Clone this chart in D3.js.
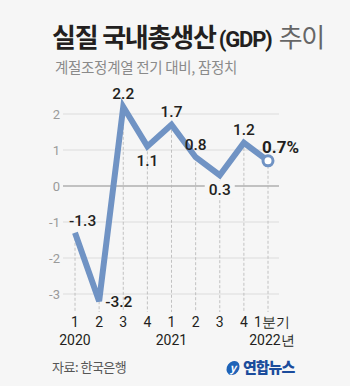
<!DOCTYPE html>
<html><head><meta charset="utf-8">
<script src="https://cdn.jsdelivr.net/npm/d3@7"></script>
<style>
html,body{margin:0;padding:0;background:#f6f6f6;}
svg{display:block;font-family:"Noto Sans CJK KR","Noto Sans",sans-serif;}
.num{font-family:Roboto,"Noto Sans",sans-serif;}
</style></head>
<body><svg id="c" width="350" height="386"></svg>
<script>
const quarters = ["1","2","3","4","1","2","3","4","1분기"];
const years = [{label:"2020", idx:0},{label:"2021", idx:4},{label:"2022년", idx:8}];
const values = [-1.3,-3.2,2.2,1.1,1.7,0.8,0.3,1.2,0.7];
const valueLabels = ["-1.3","-3.2","2.2","1.1","1.7","0.8","0.3","1.2","0.7%"];
const labelPos = ["ur","r","u","d","u","u","d","u","ur"];
const yTicks = [-3,-2,-1,0,1,2];

const svg = d3.select("#c");
const blue = "#7093c4";

// title
const t = svg.append("text").attr("x",52).attr("y",47).attr("font-size",26).attr("letter-spacing",-1.2);
t.append("tspan").attr("font-weight",700).attr("fill","#231f20").text("실질 국내총생산");
t.append("tspan").attr("font-weight",700).attr("fill","#231f20").attr("font-family","Roboto,sans-serif").attr("font-size",22).attr("dx",3).text("(GDP)");
t.append("tspan").attr("font-weight",400).attr("fill","#666").attr("dx",7).text("추이");

svg.append("text").attr("x",55).attr("y",73).attr("font-size",14.5).attr("letter-spacing",-0.3).attr("fill","#8a8a8a").text("계절조정계열 전기 대비, 잠정치");

const x = d3.scalePoint().domain(d3.range(values.length)).range([75,268]);
const y = d3.scaleLinear().domain([0,1]).range([186,150]);

// horizontal grid
const gl = svg.append("g");
yTicks.forEach(v=>{
  gl.append("line").attr("x1",63).attr("x2",279).attr("y1",y(v)).attr("y2",y(v))
    .attr("stroke", v===0 ? "#8c8c8c" : "#dcdcdc").attr("stroke-width", v===0?1.2:1);
  gl.append("text").attr("class","num").attr("x",60).attr("y",y(v)).attr("dy","0.35em")
    .attr("text-anchor","end").attr("font-size",13).attr("fill","#9a9a9a").text(v);
});

// vertical dashed lines
values.forEach((v,i)=>{
  svg.append("line").attr("x1",x(i)).attr("x2",x(i)).attr("y1",y(v)).attr("y2",312)
    .attr("stroke","#b5b5b5").attr("stroke-width",0.8).attr("stroke-dasharray","3,2");
});

// line
svg.append("path").datum(values)
  .attr("d", d3.line().x((d,i)=>x(i)).y(d=>y(d)))
  .attr("fill","none").attr("stroke",blue).attr("stroke-width",6).attr("stroke-linejoin","miter");

const last = values.length-1;
svg.append("circle").attr("cx",x(last)).attr("cy",y(values[last])).attr("r",5)
  .attr("fill","#fff").attr("stroke",blue).attr("stroke-width",3);

// value labels
values.forEach((v,i)=>{
  let lx=x(i), ly=y(v), anchor="middle";
  const p = labelPos[i];
  if(p==="u"){ ly -= 13; }
  else if(p==="d"){ ly += 14; }
  else if(p==="r"){ lx += 6; anchor="start"; }
  else if(p==="ur"){ lx -= 6; ly -= 12; anchor="start"; }
  if(i===last){ lx = x(i)-6; ly = y(v)-14; }
  const isLast = i===last;
  if(i===6){
    svg.append("rect").attr("x",lx-15).attr("y",ly-9).attr("width",30).attr("height",18).attr("fill","#f6f6f6");
  }
  svg.append("text").attr("class","num").attr("x",lx).attr("y",ly).attr("dy","0.36em")
    .attr("text-anchor",anchor).attr("font-size",isLast?17:15.5)
    .attr("font-weight",isLast?700:500).attr("fill","#231f20").text(valueLabels[i]);
});

// x axis labels
quarters.forEach((q,i)=>{
  svg.append("text").attr("class","num").attr("x", i===last ? x(i)+4 : x(i)).attr("y",322).attr("dy","0.36em")
    .attr("text-anchor","middle").attr("font-size",14).attr("fill","#231f20").text(q);
});
years.forEach(yr=>{
  svg.append("text").attr("class","num").attr("x", yr.idx===last ? x(yr.idx)+4 : x(yr.idx)).attr("y",340).attr("dy","0.36em")
    .attr("text-anchor","middle").attr("font-size",14).attr("fill","#231f20").text(yr.label);
});

// source
svg.append("text").attr("x",52).attr("y",367).attr("dy","0.36em").attr("font-size",13).attr("fill","#555").attr("letter-spacing",-0.5).text("자료: 한국은행");

// logo
const lg = svg.append("g");
lg.append("ellipse").attr("cx",233).attr("cy",368).attr("rx",7.5).attr("ry",6).attr("transform","rotate(-55,233,368)").attr("fill","#1e63b8");
lg.append("text").attr("x",233).attr("y",368).attr("dy","0.36em").attr("text-anchor","middle").attr("font-size",11).attr("font-style","italic").attr("font-weight",700).attr("fill","#fff").text("y");
lg.append("text").attr("x",243).attr("y",368).attr("dy","0.36em").attr("font-size",15).attr("font-weight",900).attr("fill","#1b4c9c").attr("letter-spacing",-1).text("연합뉴스");
</script></body></html>
